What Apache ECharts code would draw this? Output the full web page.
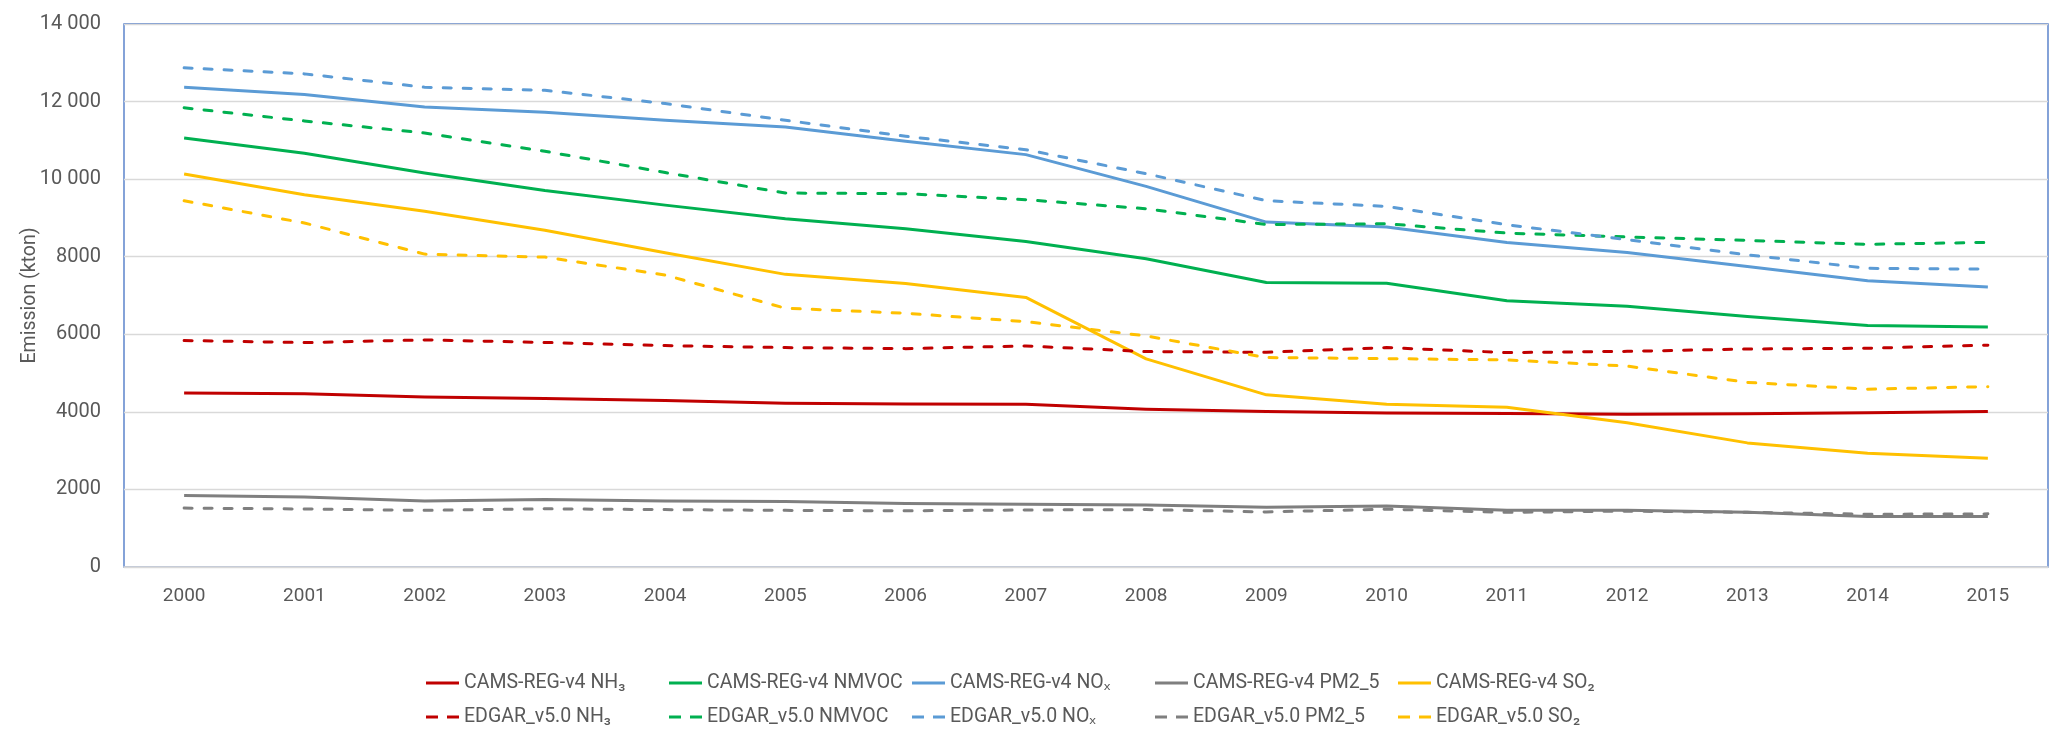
<!DOCTYPE html>
<html>
<head>
<meta charset="utf-8">
<script src="https://cdn.jsdelivr.net/npm/echarts@6/dist/echarts.min.js"></script>
<style>
html,body{margin:0;padding:0;background:#fff;}
#chart{width:2067px;height:744px;}
</style>
</head>
<body>
<div id="chart"></div>
<script>
const years = ['2000','2001','2002','2003','2004','2005','2006','2007','2008','2009','2010','2011','2012','2013','2014','2015'];
const yTicks = [0, 2000, 4000, 6000, 8000, 10000, 12000, 14000];

const camsNH3   = [4485, 4465, 4380, 4345, 4290, 4222, 4205, 4197, 4070, 4010, 3968, 3957, 3940, 3950, 3980, 4010];
const camsNMVOC = [11060, 10670, 10160, 9710, 9330, 8980, 8720, 8394, 7947, 7336, 7318, 6862, 6720, 6460, 6225, 6185];
const camsNOx   = [12370, 12180, 11860, 11725, 11520, 11346, 10976, 10632, 9814, 8893, 8764, 8368, 8110, 7750, 7380, 7220];
const camsPM25  = [1845, 1806, 1700, 1740, 1700, 1690, 1640, 1620, 1600, 1540, 1570, 1460, 1460, 1410, 1300, 1300];
const camsSO2   = [10130, 9600, 9170, 8680, 8100, 7545, 7310, 6950, 5365, 4438, 4197, 4120, 3720, 3200, 2935, 2805];

const edgarNH3   = [5840, 5786, 5855, 5790, 5708, 5657, 5630, 5700, 5554, 5536, 5657, 5528, 5560, 5620, 5640, 5720];
const edgarNMVOC = [11840, 11500, 11190, 10718, 10170, 9642, 9625, 9470, 9237, 8830, 8850, 8609, 8510, 8420, 8320, 8370];
const edgarNOx   = [12870, 12714, 12370, 12290, 11950, 11518, 11105, 10760, 10141, 9444, 9298, 8825, 8440, 8050, 7700, 7680];
const edgarPM25  = [1518, 1496, 1460, 1500, 1480, 1460, 1450, 1470, 1480, 1420, 1490, 1410, 1440, 1410, 1360, 1370];
const edgarSO2   = [9444, 8870, 8067, 7990, 7528, 6672, 6542, 6326, 5957, 5399, 5373, 5339, 5180, 4760, 4585, 4650];

const C = {nh3:'#C00000', nmvoc:'#00B050', nox:'#5B9BD5', pm:'#7F7F7F', so2:'#FFC000'};

const camsNames = ['CAMS-REG-v4 NH\u2083','CAMS-REG-v4 NMVOC','CAMS-REG-v4 NO\u2093','CAMS-REG-v4 PM2_5','CAMS-REG-v4 SO\u2082'];
const edgarNames = ['EDGAR_v5.0 NH\u2083','EDGAR_v5.0 NMVOC','EDGAR_v5.0 NO\u2093','EDGAR_v5.0 PM2_5','EDGAR_v5.0 SO\u2082'];
const camsData = [camsNH3, camsNMVOC, camsNOx, camsPM25, camsSO2];
const edgarData = [edgarNH3, edgarNMVOC, edgarNOx, edgarPM25, edgarSO2];
const cols = [C.nh3, C.nmvoc, C.nox, C.pm, C.so2];

const FONT = 'Roboto, "Noto Sans", "DejaVu Sans", sans-serif';

function mk(name, data, color, dashed) {
  return {
    name: name, type: 'line', data: data, symbol: 'none', showSymbol: false, smooth: false,
    itemStyle: {color: color},
    lineStyle: {color: color, width: 3, type: dashed ? [8, 12] : 'solid', cap: dashed ? 'round' : 'butt', join: 'round'},
    emphasis: {disabled: true}
  };
}
const series = [];
camsNames.forEach((n, i) => series.push(mk(n, camsData[i], cols[i], false)));
edgarNames.forEach((n, i) => series.push(mk(n, edgarData[i], cols[i], true)));

const SOLID_ICON = 'path://M0,0H33V3H0Z';
const DASH_ICON = 'path://M0,0H12V3H0Z M21,0H33V3H21Z';
const legends = [];
function addLegend(name, color, col, top, icon) {
  legends.push({
    orient: 'horizontal', left: 421 + col * 243, top: top,
    itemWidth: 33, itemHeight: 3, itemGap: 0, selectedMode: false,
    data: [{name: name, icon: icon, itemStyle: {color: color}}],
    textStyle: {fontFamily: FONT, fontSize: 19.5, color: '#595959'}
  });
}
camsNames.forEach((n, i) => addLegend(n, cols[i], i, 668, SOLID_ICON));
edgarNames.forEach((n, i) => addLegend(n, cols[i], i, 702, DASH_ICON));

const chart = echarts.init(document.getElementById('chart'), null, {renderer: 'canvas'});
chart.setOption({
  animation: false,
  backgroundColor: '#ffffff',
  grid: {left: 124, right: 19, top: 24, bottom: 177, show: true, borderColor: '#4472C4', borderWidth: 1.3, containLabel: false},
  legend: legends,
  xAxis: {
    type: 'category', data: years, boundaryGap: true,
    axisLine: {show: true, lineStyle: {color: '#D9D9D9', width: 1.5}},
    axisTick: {show: false},
    axisLabel: {fontFamily: FONT, fontSize: 19, color: '#595959', margin: 20},
    splitLine: {show: false}
  },
  yAxis: {
    type: 'value', min: yTicks[0], max: yTicks[yTicks.length - 1], interval: 2000,
    name: 'Emission (kton)', nameLocation: 'middle', nameGap: 84, nameRotate: 90,
    nameMoveOverlap: false,
    nameTextStyle: {fontFamily: FONT, fontSize: 19.5, color: '#595959'},
    axisLine: {show: false}, axisTick: {show: false},
    axisLabel: {
      fontFamily: FONT, fontSize: 20, color: '#595959', margin: 23,
      formatter: function (v) { return v >= 10000 ? String(v).replace(/(\d+)(\d{3})$/, '$1 $2') : String(v); }
    },
    splitLine: {show: true, lineStyle: {color: '#D9D9D9', width: 1.3}}
  },
  series: series
});
</script>
</body>
</html>
